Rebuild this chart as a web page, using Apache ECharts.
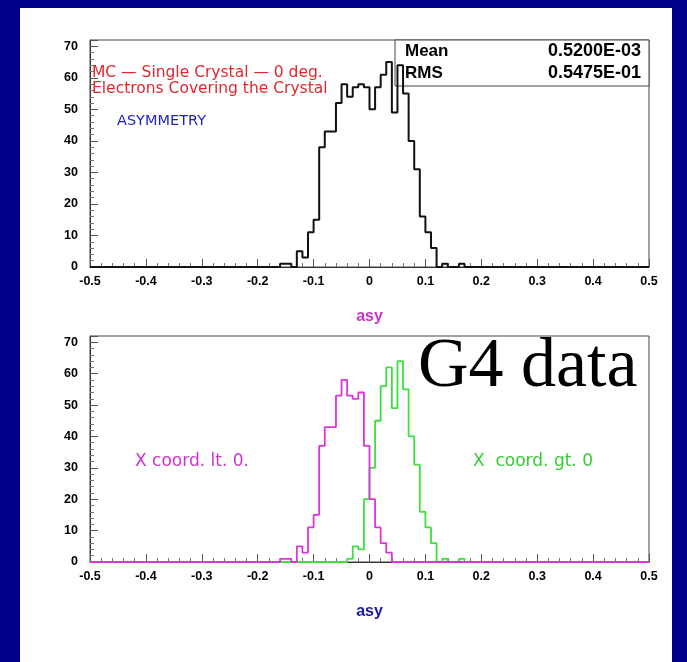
<!DOCTYPE html>
<html>
<head>
<meta charset="utf-8">
<script src="https://cdn.jsdelivr.net/npm/echarts@6/dist/echarts.min.js"></script>
<style>
html,body{margin:0;padding:0;background:#00008a;}
#main{width:687px;height:662px;}
</style>
</head>
<body>
<div id="main"></div>
<script>
// histogram bins: 0.01 wide, first listed bin starts at -0.16 (all other bins are 0)
var binLow = -0.16;
var binWidth = 0.01;
var xMin = -0.5, xMax = 0.5;

// all events (top plot)
var allCounts = [1,1,0,5,3,11,15,38,43,43,52,58,54,57,58,57,50,57,61,65,49,64,55,40,31,16,11,6,0,1,0,0,1];
// X coord. lt. 0 (magenta)
var ltCounts  = [1,1,0,5,3,11,15,37,43,43,53,58,53,52,54,37,20,11,6,3,0,0,0,0,0,0,0,0,0,0,0,0,0];
// X coord. gt. 0 (green)
var gtCounts  = [0,0,0,0,0,0,0,0,0,0,0,0,1,5,4,20,30,45,56,62,49,64,55,40,31,16,11,6,0,1,0,0,1];

var statNames  = ['Mean', 'RMS'];
var statValues = ['0.5200E-03', '0.5475E-01'];

function histPoints(counts){
    var pts = [[xMin, 0]];
    for(var i=0;i<counts.length;i++){
        pts.push([Math.round((binLow + i*binWidth)*1000)/1000, counts[i]]);
    }
    pts.push([Math.round((binLow + counts.length*binWidth)*1000)/1000, 0]);
    pts.push([xMax, 0]);
    return pts;
}

var labFont = {color:'#000', fontWeight:'bold', fontSize:12.5, fontFamily:'Liberation Sans'};

function makeX(idx, nameColor){
    return {
        type:'value', gridIndex:idx, min:xMin, max:xMax, interval:0.1,
        name:'asy', nameLocation:'middle', nameGap:42,
        nameTextStyle:{color:nameColor, fontWeight:'bold', fontSize:16, fontFamily:'Liberation Sans'},
        axisLine:{lineStyle:{color:'#333', width:1}},
        axisTick:{inside:true, length:8, lineStyle:{color:'#555'}},
        minorTick:{show:true, splitNumber:5, length:4, lineStyle:{color:'#777'}},
        splitLine:{show:false},
        axisLabel:Object.assign({margin:8, formatter:function(v){
            var r = Math.round(v*10)/10;
            return r === 0 ? '0' : String(r);
        }}, labFont)
    };
}
function makeY(idx){
    return {
        type:'value', gridIndex:idx, min:0, max:72, interval:10,
        axisLine:{show:true, onZero:false, lineStyle:{color:'#333', width:1}},
        axisTick:{show:true, inside:true, length:8, lineStyle:{color:'#555'}},
        minorTick:{show:true, splitNumber:5, length:4, lineStyle:{color:'#777'}},
        splitLine:{show:false},
        axisLabel:Object.assign({margin:12, showMaxLabel:false}, labFont)
    };
}

var chart = echarts.init(document.getElementById('main'));

var option = {
    backgroundColor:'#00008a',
    animation:false,
    grid:[
        {left:90, top:40, width:559, height:227, show:true, borderColor:'#444', borderWidth:1, backgroundColor:'transparent'},
        {left:90, top:336, width:559, height:226, show:true, borderColor:'#444', borderWidth:1, backgroundColor:'transparent'}
    ],
    xAxis:[makeX(0, '#cc33cc'), makeX(1, '#1a1aa8')],
    yAxis:[makeY(0), makeY(1)],
    series:[
        {type:'line', xAxisIndex:0, yAxisIndex:0, step:'end', showSymbol:false, z:5,
         lineStyle:{color:'#111', width:2}, data:histPoints(allCounts)},
        {type:'line', xAxisIndex:1, yAxisIndex:1, step:'end', showSymbol:false, z:4,
         lineStyle:{color:'#3ee03e', width:1.8}, data:histPoints(gtCounts)},
        {type:'line', xAxisIndex:1, yAxisIndex:1, step:'end', showSymbol:false, z:5,
         lineStyle:{color:'#dd33dd', width:1.8}, data:histPoints(ltCounts)}
    ],
    graphic:[
        // white page inside the navy border
        {type:'rect', z:-10, shape:{x:20, y:8, width:652, height:660}, style:{fill:'#fff'}},
        // stats box
        {type:'rect', z:1, shape:{x:395, y:40, width:254, height:46}, style:{fill:'#fff', stroke:'#444', lineWidth:1}},
        {type:'text', z:3, x:405, y:51, style:{text:statNames[0], fill:'#000', font:'bold 17px "Liberation Sans"', verticalAlign:'middle'}},
        {type:'text', z:3, x:641, y:51, style:{text:statValues[0], fill:'#000', font:'bold 18px "Liberation Sans"', align:'right', verticalAlign:'middle'}},
        {type:'text', z:3, x:405, y:73, style:{text:statNames[1], fill:'#000', font:'bold 17px "Liberation Sans"', verticalAlign:'middle'}},
        {type:'text', z:3, x:641, y:73, style:{text:statValues[1], fill:'#000', font:'bold 18px "Liberation Sans"', align:'right', verticalAlign:'middle'}},
        // labels
        {type:'text', z:3, x:92, y:73, style:{text:'MC — Single Crystal — 0 deg.', fill:'#e0282e', font:'15.5px "DejaVu Sans"', verticalAlign:'middle'}},
        {type:'text', z:3, x:92, y:89, style:{text:'Electrons Covering the Crystal', fill:'#e0282e', font:'15.5px "DejaVu Sans"', verticalAlign:'middle'}},
        {type:'text', z:3, x:117, y:121, style:{text:'ASYMMETRY', fill:'#2323c0', font:'14.5px "DejaVu Sans"', verticalAlign:'middle'}},
        {type:'text', z:3, x:135, y:462, style:{text:'X coord. lt. 0.', fill:'#cc33cc', font:'17px "DejaVu Sans"', verticalAlign:'middle'}},
        {type:'text', z:3, x:473, y:462, style:{text:'X  coord. gt. 0', fill:'#33cc33', font:'17px "DejaVu Sans"', verticalAlign:'middle'}},
        {type:'text', z:6, x:418, y:403, style:{text:'G4 data', fill:'#000', font:'70px "Liberation Serif"', verticalAlign:'bottom'}}
    ]
};

chart.setOption(option);
window.onresize = function(){
    chart.resize();
};
</script>
</body>
</html>
